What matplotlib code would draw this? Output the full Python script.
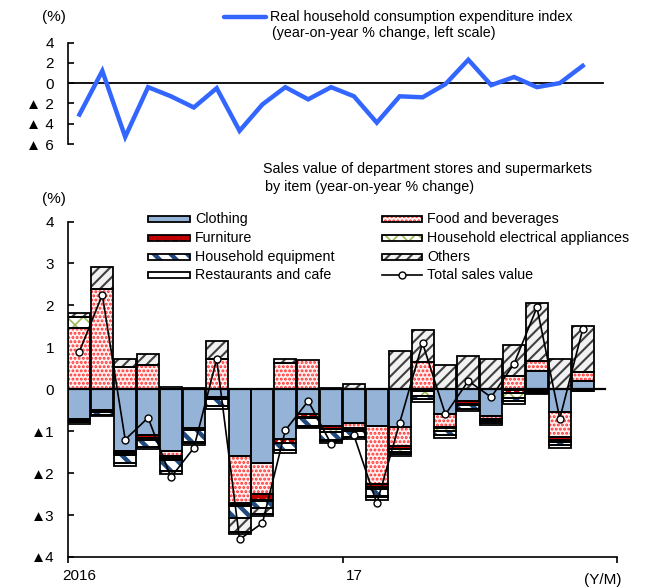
import numpy as np
import matplotlib
matplotlib.use("Agg")
import matplotlib.pyplot as plt
from matplotlib.patches import Rectangle
from matplotlib.lines import Line2D

plt.rcParams['font.family'] = ['Liberation Sans', 'DejaVu Sans']

# ---- data -------------------------------------------------------------
months = [f"{y}/{m}" for y in (2016, 2017) for m in range(1, 13)][:23]
x_labels = ["2016", "17"]

consumption = [-3.1, 1.2, -5.3, -0.4, -1.3, -2.4, -0.5, -4.7, -2.1, -0.4, -1.6, -0.4,
               -1.3, -3.9, -1.3, -1.4, -0.1, 2.3, -0.2, 0.6, -0.4, 0.0, 1.7]

clothing = [-0.70, -0.49, -1.47, -1.09, -1.48, -0.93, -0.19, -1.59, -1.77, -1.19, -0.60, -0.87,
            -0.81, -0.87, -0.90, -0.02, -0.60, -0.28, -0.63, -0.02, 0.43, -0.54, 0.20]
food = [1.46, 2.40, 0.53, 0.58, -0.10, 0.02, 0.73, -1.13, -0.73, 0.62, 0.69, 0.02,
        -0.12, -1.39, -0.46, 0.66, -0.29, 0.00, -0.08, 0.32, 0.24, -0.60, 0.21]
furniture = [-0.03, -0.03, -0.06, -0.08, -0.06, -0.03, -0.02, -0.03, -0.14, -0.08, -0.07, -0.08,
             -0.03, -0.06, -0.06, -0.03, -0.03, -0.06, -0.02, -0.06, -0.03, -0.06, -0.01]
appliances = [0.26, -0.03, -0.03, -0.03, -0.04, -0.02, -0.02, -0.04, -0.03, -0.02, -0.02, -0.08,
              -0.04, -0.05, -0.07, -0.10, -0.08, -0.03, -0.02, -0.14, -0.02, -0.05, -0.01]
equipment = [-0.05, -0.06, -0.20, -0.18, -0.26, -0.27, -0.16, -0.27, -0.16, -0.17, -0.18, -0.18,
             -0.13, -0.18, -0.05, -0.08, -0.10, -0.10, -0.06, -0.06, -0.04, -0.09, -0.02]
others = [0.11, 0.52, 0.20, 0.26, -0.08, -0.02, 0.42, -0.34, -0.14, 0.10, -0.02, -0.02,
          0.12, -0.03, 0.92, 0.76, 0.58, 0.79, 0.72, 0.73, 1.39, 0.72, 1.09]
restaurants = [-0.06, -0.03, -0.06, -0.05, 0.05, -0.06, -0.07, -0.06, -0.06, -0.06, -0.04, -0.06,
               -0.06, -0.07, -0.06, -0.07, -0.06, -0.04, -0.04, -0.08, -0.03, -0.06, -0.01]
total_sales = [0.90, 2.25, -1.20, -0.68, -2.10, -1.40, 0.72, -3.58, -3.19, -0.98, -0.28, -1.30,
               -1.10, -2.72, -0.80, 1.10, -0.60, 0.20, -0.19, 0.61, 1.95, -0.70, 1.43]

series_names = ["Clothing", "Food and beverages", "Furniture",
                "Household electrical appliances", "Household equipment",
                "Others", "Restaurants and cafe"]
series_values = [clothing, food, furniture, appliances, equipment, others, restaurants]

# fill colour, hatch pattern, hatch colour, hatch line width
styles = {
    "Clothing": ("#95B3D7", None, "#95B3D7", 1.0),
    "Food and beverages": ("#FFF0F0", "....", "#FF3030", 1.4),
    "Furniture": ("#C00000", "..", "white", 1.0),
    "Household electrical appliances": ("white", "xx", "#9BBB59", 1.2),
    "Household equipment": ("white", "\\\\", "#1F497D", 3.2),
    "Others": ("#F2F2F2", "///", "#404040", 1.5),
    "Restaurants and cafe": ("white", None, "white", 1.0),
}

W, H = 648, 588
fig = plt.figure(figsize=(W / 100, H / 100), dpi=100)


def fx(x):
    return x / W


def fy(y):
    return 1 - y / H


left, right = 68, 617
n_cat = 24
TXT = 10.3
TICK = 11

# ---- top panel: consumption expenditure --------------------------------
ax1 = fig.add_axes([fx(left), fy(144), fx(right) - fx(left), fy(42.5) - fy(144)])
ax1.set_xlim(-0.5, n_cat - 0.5)
ax1.set_ylim(-6, 4)
idx = np.arange(len(consumption))
ax1.plot(idx, consumption, color="#3366FF", lw=3.2, solid_joinstyle="miter", zorder=3)
ax1.axhline(0, xmin=0, xmax=(603 - left) / (right - left), color="black", lw=1.3, zorder=2)
for s in ("top", "right", "bottom"):
    ax1.spines[s].set_visible(False)
ax1.spines["left"].set_linewidth(1.2)
ax1.set_xticks([])
ax1.set_yticks([4, 2, 0, -2, -4, -6])
ax1.set_yticklabels(["4", "2", "0", "▲ 2", "▲ 4", "▲ 6"])
ax1.tick_params(axis="y", direction="in", length=4, width=1.2, pad=10, labelsize=TICK)

# ---- bottom panel: sales by item ---------------------------------------
ax2 = fig.add_axes([fx(left), fy(557), fx(right) - fx(left), fy(221.5) - fy(557)])
ax2.set_xlim(-0.5, n_cat - 0.5)
ax2.set_ylim(-4, 4)
xb = np.arange(len(months))
pos_base = np.zeros(len(months))
neg_base = np.zeros(len(months))
bar_w = 0.96
for name, vals in zip(series_names, series_values):
    v = np.array(vals, dtype=float)
    base = np.where(v >= 0, pos_base, neg_base)
    face, hatch, hcol, hlw = styles[name]
    with plt.rc_context({"hatch.linewidth": hlw}):
        ax2.bar(xb, v, bottom=base, width=bar_w, color=face, hatch=hatch,
                edgecolor=hcol, lw=0, zorder=2)
    ax2.bar(xb, v, bottom=base, width=bar_w, fill=False, edgecolor="black", lw=1.3, zorder=3)
    pos_base = pos_base + np.where(v > 0, v, 0)
    neg_base = neg_base + np.where(v < 0, v, 0)

ax2.axhline(0, xmin=0, xmax=(605 - left) / (right - left), color="black", lw=1.6, zorder=4)
ax2.plot(xb, total_sales, color="black", lw=1.2, marker="o", ms=5,
         mfc="white", mec="black", mew=1.0, zorder=5)

for s in ("top", "right"):
    ax2.spines[s].set_visible(False)
ax2.spines["left"].set_linewidth(1.2)
ax2.spines["bottom"].set_linewidth(1.2)
ax2.set_yticks([4, 3, 2, 1, 0, -1, -2, -3, -4])
ax2.set_yticklabels(["4", "3", "2", "1", "0", "▲1", "▲2", "▲3", "▲4"])
ax2.tick_params(axis="y", direction="in", length=4, width=1.2, pad=10, labelsize=TICK)
ax2.set_xticks([-0.5, 11.5, 23.5])
ax2.set_xticklabels(["", "", ""])
ax2.tick_params(axis="x", which="major", direction="out", length=4, width=1.2)
ax2.set_xticks([0, 12], x_labels, minor=True)
ax2.tick_params(axis="x", which="minor", length=0, pad=9, labelsize=TICK)

# ---- annotations ---------------------------------------------------------
fig.text(fx(54), fy(17), "(%)", ha="center", va="center", fontsize=TICK)
fig.text(fx(54), fy(199), "(%)", ha="center", va="center", fontsize=TICK)
fig.text(fx(603), fy(580), "(Y/M)", ha="center", va="center", fontsize=TICK)

fig.add_artist(Line2D([fx(224), fx(266)], [fy(17), fy(17)], color="#3366FF", lw=3.2,
                      solid_capstyle="round", transform=fig.transFigure))
fig.text(fx(270), fy(17), "Real household consumption expenditure index",
         ha="left", va="center", fontsize=TXT)
fig.text(fx(272), fy(33), "(year-on-year % change, left scale)",
         ha="left", va="center", fontsize=TXT)

fig.text(fx(263), fy(169), "Sales value of department stores and supermarkets",
         ha="left", va="center", fontsize=TXT)
fig.text(fx(265), fy(187), "by item (year-on-year % change)",
         ha="left", va="center", fontsize=TXT)

# legend keys, two columns
rows = [219, 238, 257, 275]
col_keys = [(148, 190, 195), (382, 422, 427)]
order = [["Clothing", "Furniture", "Household equipment", "Restaurants and cafe"],
         ["Food and beverages", "Household electrical appliances", "Others", "Total sales value"]]
kh = 6
for (x0, x1, tx), names in zip(col_keys, order):
    for yr, name in zip(rows, names):
        if name == "Total sales value":
            fig.add_artist(Line2D([fx(x0), fx(x1)], [fy(yr), fy(yr)], color="black", lw=1.2,
                                  transform=fig.transFigure))
            fig.add_artist(Line2D([fx((x0 + x1) / 2)], [fy(yr)], color="black", marker="o",
                                  ms=5, mfc="white", mec="black", mew=1.0,
                                  transform=fig.transFigure))
        else:
            face, hatch, hcol, hlw = styles[name]
            y0, y1 = fy(yr + kh / 2), fy(yr - kh / 2)
            with plt.rc_context({"hatch.linewidth": hlw}):
                fig.add_artist(Rectangle((fx(x0), y0), fx(x1) - fx(x0), y1 - y0,
                                         transform=fig.transFigure, facecolor=face,
                                         hatch=hatch, edgecolor=hcol, lw=0))
            fig.add_artist(Rectangle((fx(x0), y0), fx(x1) - fx(x0), y1 - y0,
                                     transform=fig.transFigure, fill=False,
                                     edgecolor="black", lw=1.3))
        fig.text(fx(tx), fy(yr), name, ha="left", va="center", fontsize=TXT)

fig.savefig("out.png", dpi=100)
